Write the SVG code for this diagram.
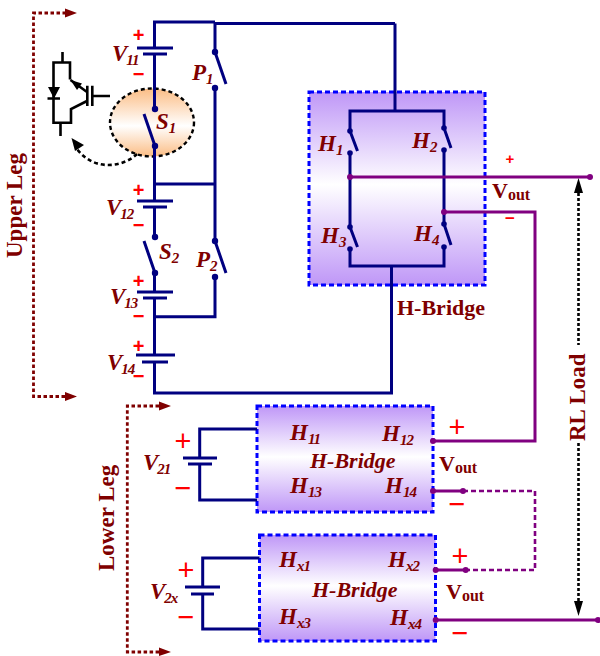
<svg xmlns="http://www.w3.org/2000/svg" width="600" height="656" viewBox="0 0 600 656">
<style>
text{font-family:"Liberation Serif","Times New Roman",serif;font-weight:bold;fill:#7f0000}
.l{font-style:italic;font-size:23px}
.s{font-size:15px;letter-spacing:-1px}
.b{font-size:22px}
.so{font-size:16px}
.r{font-size:23px}
.p{font-family:"Liberation Sans",Arial,sans-serif;fill:#f00;font-size:20px;text-anchor:middle}
.q{font-family:"Liberation Sans",Arial,sans-serif;fill:#f00;font-size:29px;font-weight:normal;text-anchor:middle}
.w{fill:none;stroke:#000080;stroke-width:3}
.m{fill:none;stroke:#800080;stroke-width:3}
.md{fill:none;stroke:#800080;stroke-width:2.600;stroke-dasharray:5 3}
.k{fill:none;stroke:#000;stroke-width:2.600}
.leg{fill:none;stroke:#7f0000;stroke-width:2.800;stroke-dasharray:3.500 2.500}
.box{stroke:#00f;stroke-width:3;stroke-dasharray:5 3}
.dn{fill:#000080}
.dm{fill:#800080}
</style>
<defs>
<linearGradient id="pg" x1="0" y1="0" x2="0" y2="1"><stop offset="0" stop-color="#bf97f7"/><stop offset=".48" stop-color="#fff"/><stop offset="1" stop-color="#bf97f7"/></linearGradient>
<linearGradient id="og" x1="0" y1="0" x2="0" y2="1"><stop offset="0" stop-color="#fbbd85"/><stop offset=".55" stop-color="#fff"/><stop offset="1" stop-color="#fbbd85"/></linearGradient>
</defs>
<g id="h-bridge-upper-box"><rect class="box" x="309" y="92" width="176" height="193" fill="url(#pg)"/></g>
<g id="h-bridge-11-box"><rect class="box" x="257" y="406" width="176" height="106" fill="url(#pg)"/></g>
<g id="h-bridge-x-box"><rect class="box" x="259.500" y="535" width="176" height="106" fill="url(#pg)"/></g>
<g id="s1-highlight"><ellipse cx="152" cy="122.500" rx="42" ry="34" fill="url(#og)" stroke="#000" stroke-width="2.400" stroke-dasharray="4 3"/></g>
<g id="connectors">
<path class="w" d="M154.500 48V22H215M215 23.500H395M154.500 54V109M154.500 146V201M154.500 207V237M154.500 273V292M154.500 298V355M154.500 362V393H391.500V266M154.500 184H215M215 22V52M215 88V241M215 277V316.700H154.500M395 23.500V111"/>
<path class="w" d="M137 48H173M143 54H167M137 201H173M143 207H167M137 292H173M143 298H167M136 355H175M142 362H168M183 458H217M188 464H212M185 587H220M191 594H214"/>
<path class="w" d="M155 146L144 114M215 52L226 84M155 273L144 241M215 241L226 273"/>
<path class="w" d="M350 131V111H444V128M350 153V227M350 249V266H444V247M444 150V224M350 131L357.500 151M350 227L357.500 247M444 128L451 148M444 224L451 245"/>
<path class="w" d="M257 429H199.700V458M199.700 464V500H257M259.500 558H202.700V587M202.700 594V629H259.500"/>
<path class="m" d="M350 177H590M444 212H535V441H433M433 491H463M435.700 570H465.700M435.700 620H600"/>
<path class="md" d="M463 491H535V570H465.700"/>
<g class="dn"><circle cx="155" cy="109" r="3.200"/><circle cx="155" cy="146" r="3.200"/><circle cx="155" cy="237" r="3.200"/><circle cx="155" cy="273" r="3.200"/><circle cx="215" cy="52" r="3.200"/><circle cx="215" cy="88" r="3.200"/><circle cx="215" cy="241" r="3.200"/><circle cx="215" cy="277" r="3.200"/><circle cx="350" cy="131" r="2.800"/><circle cx="350" cy="153" r="2.800"/><circle cx="350" cy="227" r="2.800"/><circle cx="350" cy="249" r="2.800"/><circle cx="444" cy="128" r="2.800"/><circle cx="444" cy="150" r="2.800"/><circle cx="444" cy="224" r="2.800"/><circle cx="444" cy="247" r="2.800"/></g>
<g class="dm"><circle cx="350" cy="177" r="3"/><circle cx="590" cy="177" r="3"/><circle cx="444" cy="212" r="3"/><circle cx="433" cy="441" r="3"/><circle cx="433" cy="491" r="3"/><circle cx="463" cy="491" r="3"/><circle cx="435.700" cy="570" r="3"/><circle cx="465.700" cy="570" r="3"/><circle cx="435.700" cy="620" r="3"/><circle cx="598" cy="620" r="3"/></g>
<path class="leg" d="M66 13H33.500V396.500H66"/>
<path d="M65 8.500L77 13L65 17.500ZM65 392L77 396.500L65 401Z" fill="#7f0000"/>
<path class="leg" d="M159 406H127.300V652H159"/>
<path d="M159 401.500L171 406L159 410.500ZM159 647.500L171 652L159 656Z" fill="#7f0000"/>
<path class="k" stroke-dasharray="3 2" d="M578.500 193V345M578.500 443V601"/>
<path d="M578.500 178L583 193H574ZM578.500 616L574 601H583Z" fill="#000"/>
<path class="k" stroke-dasharray="4 3" d="M137 154C125 166 95 173 77 149"/>
<path d="M71.500 138L84 145L75 151Z" fill="#000"/>
</g>
<g id="igbt">
<path class="k" d="M62.500 52V62.500M70 79.500V62.500H53.500V122.700H71V109L87 101M60.500 122.700V136M87.300 85.700V106M92.300 85.700V106M92.300 96H110M47.500 98.500H60M70.500 80L87 92"/>
<path d="M48 87H60L54 98.500ZM70.500 80L82 83.500L77 90Z" fill="#000"/>
</g>
<g id="labels">
<text class="l" x="112" y="61">V<tspan class="s" dx="-1" dy="4">11</tspan></text>
<text class="l" x="192" y="80">P<tspan class="s" dy="4">1</tspan></text>
<text class="l" x="156" y="129">S<tspan class="s" dy="4">1</tspan></text>
<text class="l" x="106" y="215">V<tspan class="s" dx="-1" dy="4">12</tspan></text>
<text class="l" x="159" y="259">S<tspan class="s" dy="4">2</tspan></text>
<text class="l" x="196" y="267">P<tspan class="s" dy="4">2</tspan></text>
<text class="l" x="110" y="304">V<tspan class="s" dx="-1" dy="4">13</tspan></text>
<text class="l" x="107" y="370">V<tspan class="s" dx="-1" dy="4">14</tspan></text>
<text class="l" x="318" y="151">H<tspan class="s" dy="4">1</tspan></text>
<text class="l" x="412" y="148">H<tspan class="s" dy="4">2</tspan></text>
<text class="l" x="321" y="243">H<tspan class="s" dy="4">3</tspan></text>
<text class="l" x="414" y="241">H<tspan class="s" dy="4">4</tspan></text>
<text class="b" x="492" y="198">V<tspan class="so" dy="2">out</tspan></text>
<text class="b" x="397" y="315">H-Bridge</text>
<text class="l" x="290" y="440">H<tspan class="s" dy="4">11</tspan></text>
<text class="l" x="382" y="441">H<tspan class="s" dy="4">12</tspan></text>
<text class="l" style="font-size:22px" x="310" y="468">H-Bridge</text>
<text class="l" x="290" y="493">H<tspan class="s" dy="4">13</tspan></text>
<text class="l" x="385" y="493">H<tspan class="s" dy="4">14</tspan></text>
<text class="l" x="279" y="567">H<tspan class="s" dy="4">x1</tspan></text>
<text class="l" x="388" y="567">H<tspan class="s" dy="4">x2</tspan></text>
<text class="l" style="font-size:22px" x="312" y="597">H-Bridge</text>
<text class="l" x="279" y="624">H<tspan class="s" dy="4">x3</tspan></text>
<text class="l" x="390" y="625">H<tspan class="s" dy="4">x4</tspan></text>
<text class="b" x="439" y="471">V<tspan class="so" dy="2">out</tspan></text>
<text class="b" x="446" y="599">V<tspan class="so" dy="2">out</tspan></text>
<text class="l" x="143" y="470">V<tspan class="s" dx="-1" dy="4">21</tspan></text>
<text class="l" x="150" y="599">V<tspan class="s" dx="-1" dy="4">2x</tspan></text>
<text class="r" transform="translate(22 258) rotate(-90)">Upper Leg</text>
<text class="r" transform="translate(114 571) rotate(-90)">Lower Leg</text>
<text class="r" transform="translate(585 441) rotate(-90)">RL Load</text>
<text class="p" x="138.500" y="42">+</text><text class="p" x="138.500" y="81">−</text>
<text class="p" x="138.500" y="197">+</text><text class="p" x="138.500" y="232">−</text>
<text class="p" x="138.500" y="288">+</text><text class="p" x="138.500" y="323">−</text>
<text class="p" x="138.500" y="353">+</text><text class="p" x="138.500" y="383">−</text>
<text class="p" style="font-size:15px" x="510" y="164">+</text><text class="p" style="font-size:17px" x="510" y="224">−</text>
<text class="q" x="457" y="437">+</text><text class="q" x="457" y="514">−</text>
<text class="q" x="460" y="566">+</text><text class="q" x="460" y="643">−</text>
<text class="q" x="183" y="451">+</text><text class="q" x="183" y="498">−</text>
<text class="q" x="186" y="580">+</text><text class="q" x="186" y="627">−</text>
</g>
</svg>
